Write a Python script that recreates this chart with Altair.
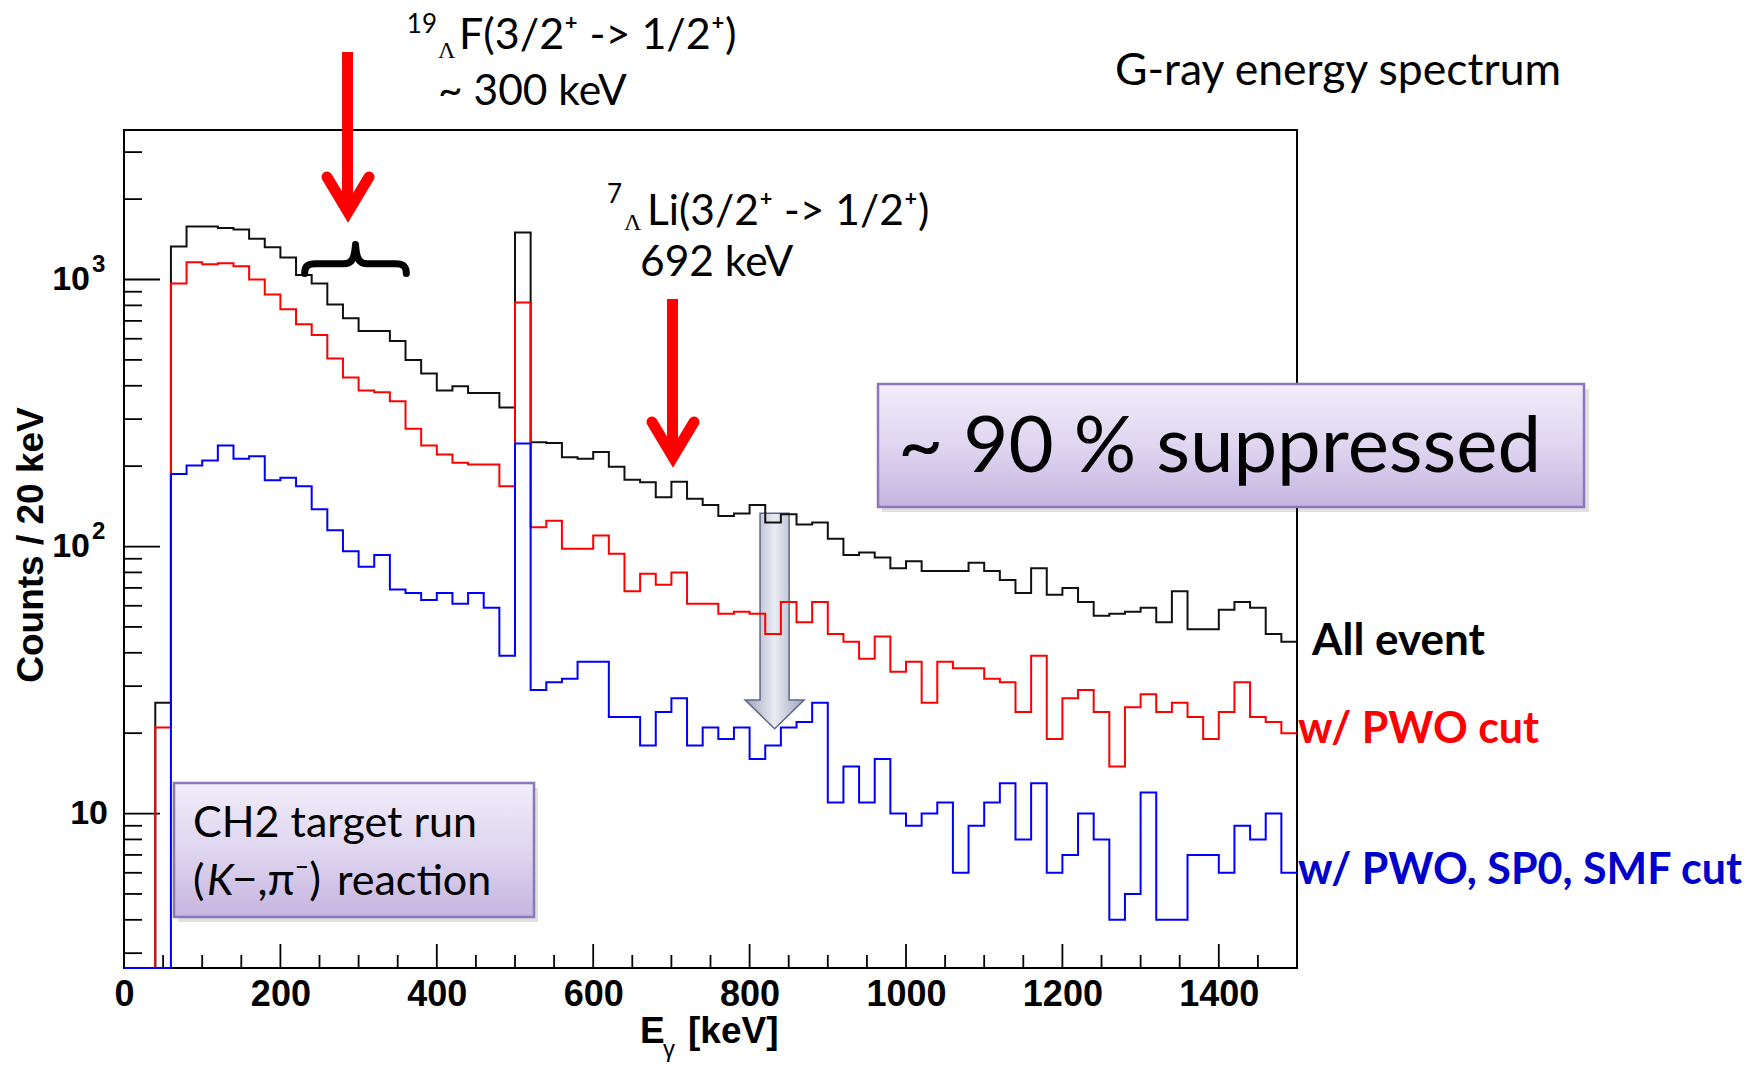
import altair as alt
import pandas as pd

# ---------------- data (counts per 20 keV bin, lower bin edges) ----------------
bin_lo = list(range(0, 1500, 20))

all_event = [0, 0, 26, 1330, 1580, 1580, 1560, 1540, 1420, 1320,
             1210, 1040, 966, 807, 716, 642, 642, 589, 499, 445,
             384, 398, 376, 376, 332, 1500, 246, 244, 216, 213,
             226, 199, 178, 174, 153, 175, 151, 143, 130, 133,
             143, 123, 132, 121, 123, 107, 93, 95, 91, 83,
             88, 81, 81, 81, 87, 81, 75, 67, 83, 66,
             70, 62, 55, 56, 57, 59, 52, 68, 49, 49,
             58, 62, 59, 47, 44]

pwo_cut = [0, 0, 21, 966, 1160, 1140, 1150, 1120, 1000, 879,
           773, 680, 620, 506, 430, 384, 378, 350, 276, 239,
           221, 206, 203, 203, 168, 820, 118, 125, 98, 98,
           110, 94, 68, 79, 72, 80, 61, 61, 56, 57,
           56, 47, 62, 52, 62, 47, 44, 38, 46, 34,
           37, 26, 37, 35, 35, 32, 31, 24, 39, 19,
           27, 29, 24, 15, 25, 28, 24, 26, 23, 19,
           24, 31, 23, 22, 20]

full_cut = [0, 0, 0, 187, 201, 210, 239, 213, 218, 177,
            181, 168, 138, 115, 96, 84, 93, 69, 67, 63,
            67, 61, 67, 59, 39, 243, 29, 31, 32, 37,
            37, 23, 23, 18, 24, 27, 18, 21, 19, 21,
            16, 18, 21, 22, 26, 11, 15, 11, 16, 10,
            9, 10, 11, 6, 9, 11, 13, 8, 13, 6,
            7, 10, 8, 4, 5, 12, 4, 4, 7, 7,
            6, 9, 8, 10, 6]

x_label_vals = [0, 200, 400, 600, 800, 1000, 1200, 1400]
x_minor_vals = [v for v in range(50, 1500, 50) if v % 200 != 0]
y_label_vals = [10, 100, 1000]
y_label_sup = ["", "2", "3"]
y_minor_vals = [3, 4, 5, 6, 7, 8, 9, 20, 30, 40, 50, 60, 70, 80, 90,
                200, 300, 400, 500, 600, 700, 800, 900, 2000, 3000]

# ---------------- geometry ----------------
W, H = 1173, 838
OX, OY = 124, 130
YMIN, YMAX = 2.64, 3630

xs = alt.Scale(domain=[0, 1500], nice=False, zero=False)
ys = alt.Scale(type="log", domain=[YMIN, YMAX], nice=False)

AXFONT = "Liberation Sans"
TXFONT = "Lato"

XA = alt.Axis(values=x_label_vals, ticks=False, tickSize=0, domain=False, grid=False,
              labelFont=AXFONT, labelFontWeight="bold", labelFontSize=36, format="d",
              labelPadding=9, labelColor="black", labelFlush=False, title=None)
YA = alt.Axis(values=y_label_vals, ticks=False, tickSize=0, domain=False, grid=False,
              labels=False, title=None)


def one():
    return alt.Data(values=[{"a": 1}])


def hist(vals, color):
    df = pd.DataFrame({"E": bin_lo + [1500], "N": vals + [vals[-1]]})
    return (alt.Chart(df)
            .transform_calculate(Nc=f"max(datum.N, {YMIN})")
            .mark_line(interpolate="step-after", color=color, strokeWidth=2)
            .encode(x=alt.X("E:Q", scale=xs, axis=XA), y=alt.Y("Nc:Q", scale=ys, axis=YA)))


def xticks(vals, length):
    return alt.Chart(pd.DataFrame({"E": vals})).mark_rule(color="black", strokeWidth=1.8).encode(
        x=alt.X("E:Q", scale=xs, axis=XA), y=alt.value(H), y2=alt.value(H - length))


def yticks(vals, length):
    return alt.Chart(pd.DataFrame({"Nc": vals})).mark_rule(color="black", strokeWidth=1.8).encode(
        y=alt.Y("Nc:Q", scale=ys, axis=YA), x=alt.value(0), x2=alt.value(length))


def ylabel(value, sup):
    base_x = -34 if sup else -16
    out = [alt.Chart(one()).mark_text(
        text="10", font=AXFONT, fontWeight="bold", fontSize=34, align="right",
        baseline="middle", color="black").encode(
        x=alt.value(base_x), y=alt.YDatum(value, scale=ys, axis=YA))]
    if sup:
        out.append(alt.Chart(one()).mark_text(
            text=sup, font=AXFONT, fontWeight="bold", fontSize=24, align="left",
            baseline="middle", dy=-15, color="black").encode(
            x=alt.value(-32), y=alt.YDatum(value, scale=ys, axis=YA)))
    return out


def txt(text, fx, fy, size, font=TXFONT, weight="normal", color="black", align="left",
        style="normal", angle=0, baseline="alphabetic"):
    return alt.Chart(one()).mark_text(
        text=text, font=font, fontSize=size, fontWeight=weight, color=color, align=align,
        fontStyle=style, angle=angle, baseline=baseline).encode(
        x=alt.value(fx - OX), y=alt.value(fy - OY))


def rect(x1, y1, x2, y2, **kw):
    return alt.Chart(one()).mark_rect(**kw).encode(
        x=alt.value(x1 - OX), x2=alt.value(x2 - OX), y=alt.value(y1 - OY), y2=alt.value(y2 - OY))


def symbol(path, cx, cy, side, **kw):
    return alt.Chart(one()).mark_point(shape=path, size=side * side, opacity=1, **kw).encode(
        x=alt.value(cx - OX), y=alt.value(cy - OY))


def rule_v(fx, fy1, fy2, color, width):
    return alt.Chart(one()).mark_rule(color=color, strokeWidth=width).encode(
        x=alt.value(fx - OX), y=alt.value(fy1 - OY), y2=alt.value(fy2 - OY))


purple = alt.LinearGradient(
    gradient="linear", x1=0, y1=0, x2=0, y2=1,
    stops=[alt.GradientStop(color="#f1edf9", offset=0),
           alt.GradientStop(color="#ddd3ef", offset=0.55),
           alt.GradientStop(color="#c6b4df", offset=1)])

steel = alt.LinearGradient(
    gradient="linear", x1=0, y1=0, x2=1, y2=0,
    stops=[alt.GradientStop(color="#8a93b0", offset=0),
           alt.GradientStop(color="#e6e8f1", offset=0.5),
           alt.GradientStop(color="#8a93b0", offset=1)])

chevron = "M-1,-0.833L0,0.833L1,-0.833"
brace = ("M-0.95,0.27 C-0.95,0.12 -0.88,0.09 -0.75,0.09 L-0.22,0.09 "
         "C-0.08,0.09 -0.02,0.02 0,-0.27 C0.02,0.02 0.08,0.09 0.22,0.09 "
         "L0.75,0.09 C0.88,0.09 0.95,0.12 0.95,0.27")
fat_arrow = ("M-0.135,-1L0.135,-1L0.135,0.733L0.274,0.733L0,1L-0.274,0.733"
             "L-0.135,0.733Z")

layers = [
    # frame
    rect(OX, OY, OX + W, OY + H, fillOpacity=0, stroke="black", strokeWidth=2),
    # inside ticks
    xticks(x_label_vals, 24),
    xticks(x_minor_vals, 13),
    yticks(y_label_vals, 36),
    yticks(y_minor_vals, 18),
]
for v, s in zip(y_label_vals, y_label_sup):
    layers += ylabel(v, s)

layers += [
    # grey suppression arrow (under the histograms)
    symbol(fat_arrow, 774.6, 621, 215.5, filled=True, fill=steel, stroke="#5f6885",
           strokeWidth=1.5, fillOpacity=0.85),
    # histograms
    hist(all_event, "#111111"),
    hist(pwo_cut, "#ff0000"),
    hist(full_cut, "#0000ff"),
    # red arrows + brace
    rule_v(347.5, 52, 205, "#ff0000", 11),
    symbol(chevron, 348, 194.5, 42, filled=False, color="#ff0000", strokeWidth=11,
           strokeCap="round", strokeJoin="miter"),
    rule_v(672.5, 299, 450, "#ff0000", 11),
    symbol(chevron, 673, 439.5, 42, filled=False, color="#ff0000", strokeWidth=11,
           strokeCap="round", strokeJoin="miter"),
    symbol(brace, 355.5, 259, 107, filled=False, color="black", strokeWidth=7,
           strokeCap="round", strokeJoin="round"),
    # boxes
    rect(882, 389, 1589, 512, color="#000000", opacity=0.12),
    rect(878, 384, 1584, 507, fill=purple, stroke="#8d77bc", strokeWidth=2.5),
    rect(178, 788, 538, 922, color="#000000", opacity=0.12),
    rect(174, 783, 534, 917, fill=purple, stroke="#8d77bc", strokeWidth=2.5),
    txt("~ 90 % suppressed", 898, 472, 78),
    txt("CH2 target run", 193, 837, 43),
    txt("(", 193, 895, 43),
    txt("K", 207, 895, 43, style="italic"),
    txt("−,π⁻)", 232, 895, 44),
    txt("reaction", 337, 895, 43),
    # transition labels
    txt("19", 437, 33, 26, align="right"),
    txt("Λ", 438, 58, 24, font="Liberation Serif"),
    txt("F(3/2⁺ -> 1/2⁺)", 459, 49, 43),
    txt("~ 300 keV", 438, 105, 42.5),
    txt("7", 622, 203, 26, align="right"),
    txt("Λ", 624, 230, 24, font="Liberation Serif"),
    txt("Li(3/2⁺ -> 1/2⁺)", 647, 225, 42.5),
    txt("692 keV", 640, 276, 42.5),
    txt("G-ray energy spectrum", 1115, 85, 44.5),
    # series labels
    txt("All event", 1312, 655, 44, weight="bold"),
    txt("w/ PWO cut", 1298, 743, 43, weight="bold", color="#ff0000"),
    txt("w/ PWO, SP0, SMF cut", 1298, 884, 43, weight="bold", color="#0000cc"),
    # axis titles
    txt("Counts / 20 keV", 31.5, 545, 37, font=AXFONT, weight="bold", align="center",
        angle=270, baseline="middle"),
    txt("E", 640, 1043, 37, font=AXFONT, weight="bold"),
    txt("γ", 663, 1057, 24, font=AXFONT),
    txt("[keV]", 688, 1043, 37, font=AXFONT, weight="bold"),
]

chart = alt.layer(*layers).properties(
    width=W, height=H,
    padding={"left": OX, "top": OY, "right": 1752 - OX - W, "bottom": 1067 - OY - H},
    autosize=alt.AutoSizeParams(type="none"),
    background="white",
).configure_view(strokeWidth=0)

chart.save("out.html", embed_options={"renderer": "svg", "actions": False})
